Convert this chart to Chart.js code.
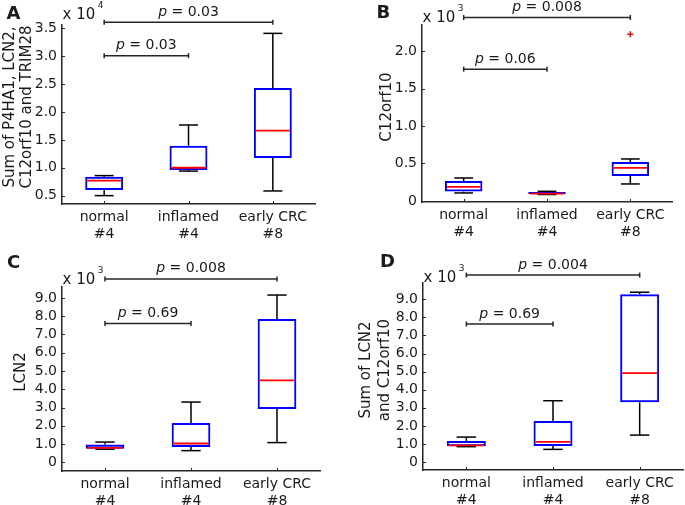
<!DOCTYPE html>
<html>
<head>
<meta charset="utf-8">
<script src="https://cdn.jsdelivr.net/npm/chart.js@4.4.1/dist/chart.umd.min.js"></script>
<style>
  html, body { margin: 0; padding: 0; background: #fff; }
  #wrap { position: relative; width: 685px; height: 505px; overflow: hidden; }
  canvas { position: absolute; }
</style>
</head>
<body>
<div id="wrap">
  <canvas id="chartA" width="340" height="250" style="left:0;top:0"></canvas>
  <canvas id="chartB" width="345" height="250" style="left:340px;top:0"></canvas>
  <canvas id="chartC" width="340" height="255" style="left:0;top:250px"></canvas>
  <canvas id="chartD" width="345" height="255" style="left:340px;top:250px"></canvas>
</div>
<script>
// groups shown on every panel
const categories = [['normal', '#4'], ['inflamed', '#4'], ['early CRC', '#8']];

// A: sum of P4HA1, LCN2, C12orf10 and TRIM28
const lowA   = [5000, 9400, 5840];
const q1A    = [6000, 9600, 11750];
const medA   = [7700, 10000, 16650];
const q3A    = [8400, 13960, 24300];
const highA  = [8590, 17670, 34100];
const ticksA = [5000, 10000, 15000, 20000, 25000, 30000, 35000];
const bracketA = [30100, 36100];
const pA       = ['0.03', '0.03'];

// B: C12orf10
const lowB   = [106, 85, 226];
const q1B    = [124, 88, 333];
const medB   = [186, 98, 440];
const q3B    = [266, 120, 520];
const highB  = [306, 128, 560];
const outlierB = [null, null, 2227];
const ticksB = [0, 500, 1000, 1500, 2000];
const bracketB = [1760, 2450];
const pB       = ['0.06', '0.008'];

// C: LCN2
const lowC   = [720, 640, 1080];
const q1C    = [740, 840, 2920];
const medC   = [790, 1030, 4490];
const q3C    = [970, 2150, 7850];
const highC  = [1110, 3300, 9160];
const ticksC = [0, 1000, 2000, 3000, 4000, 5000, 6000, 7000, 8000, 9000];
const bracketC = [7600, 10040];
const pC       = ['0.69', '0.008'];

// D: sum of LCN2 and C12orf10
const lowD   = [850, 700, 1490];
const q1D    = [880, 890, 3300];
const medD   = [920, 1110, 4920];
const q3D    = [1170, 2270, 9280];
const highD  = [1380, 3390, 9390];
const ticksD = ticksC;
const bracketD = [7630, 10340];
const pD       = ['0.69', '0.004'];

// which groups each bracket joins
const bracketPairs = [[0, 1], [0, 2]];

const FONT = '"DejaVu Sans", sans-serif';
const AXIS_COLOR = '#262626';
const TEXT_COLOR = '#1a1a1a';
const BOX_BLUE = '#0000ff';
const MEDIAN_RED = '#ff0000';

function drawPLabel(ctx, value, cx, baseline) {
    const italic = 'italic 14px ' + FONT;
    const plain = '14px ' + FONT;
    const rest = ' = ' + value;
    ctx.font = italic;
    const w1 = ctx.measureText('p').width;
    ctx.font = plain;
    const w2 = ctx.measureText(rest).width;
    const x = cx - (w1 + w2) / 2;
    ctx.textAlign = 'left';
    ctx.textBaseline = 'alphabetic';
    ctx.fillStyle = TEXT_COLOR;
    ctx.font = italic;
    ctx.fillText('p', x, baseline);
    ctx.font = plain;
    ctx.fillText(rest, x + w1, baseline);
}

function line(ctx, x1, y1, x2, y2) {
    ctx.beginPath();
    ctx.moveTo(x1, y1);
    ctx.lineTo(x2, y2);
    ctx.stroke();
}

/**
 * Whiskers, medians, inward ticks, brackets and labels for one panel.
 */
function makeBoxPlugin(p) {
    return {
        id: 'boxPlot' + p.letter,
        beforeDatasetsDraw(chart) {
            const ctx = chart.ctx;
            const y = chart.scales.y;
            const bars = chart.getDatasetMeta(0).data;
            ctx.save();
            ctx.strokeStyle = '#000';
            ctx.lineWidth = 1.5;
            bars.forEach((bar, i) => {
                const cap = bar.width / 4;
                const yHi = y.getPixelForValue(p.high[i]);
                const yLo = y.getPixelForValue(p.low[i]);
                line(ctx, bar.x, y.getPixelForValue(p.q3[i]), bar.x, yHi);
                line(ctx, bar.x, y.getPixelForValue(p.q1[i]), bar.x, yLo);
                line(ctx, bar.x - cap, yHi, bar.x + cap, yHi);
                line(ctx, bar.x - cap, yLo, bar.x + cap, yLo);
            });
            ctx.restore();
        },
        afterDatasetsDraw(chart) {
            const ctx = chart.ctx;
            const y = chart.scales.y;
            const bars = chart.getDatasetMeta(0).data;
            ctx.save();
            ctx.strokeStyle = MEDIAN_RED;
            ctx.lineWidth = 1.8;
            bars.forEach((bar, i) => {
                const ym = y.getPixelForValue(p.med[i]);
                line(ctx, bar.x - bar.width / 2 + 2, ym, bar.x + bar.width / 2 - 2, ym);
            });
            ctx.restore();
        },
        afterDraw(chart) {
            const ctx = chart.ctx;
            const {left, top, bottom} = chart.chartArea;
            const x = chart.scales.x;
            const y = chart.scales.y;
            ctx.save();

            // inward tick marks
            ctx.strokeStyle = AXIS_COLOR;
            ctx.lineWidth = 1;
            p.ticks.forEach(v => {
                const ty = Math.round(y.getPixelForValue(v)) + 0.5;
                line(ctx, left, ty, left + 3, ty);
            });
            categories.forEach((c, i) => {
                const tx = Math.round(x.getPixelForValue(i)) + 0.5;
                line(ctx, tx, bottom, tx, bottom - 3);
            });

            // significance brackets
            ctx.strokeStyle = AXIS_COLOR;
            ctx.lineWidth = 1.5;
            bracketPairs.forEach(([a, b], k) => {
                const by = y.getPixelForValue(p.bracket[k]);
                const x1 = x.getPixelForValue(a);
                const x2 = x.getPixelForValue(b);
                line(ctx, x1, by, x2, by);
                line(ctx, x1, by - 2.5, x1, by + 2.5);
                line(ctx, x2, by - 2.5, x2, by + 2.5);
                drawPLabel(ctx, p.pValues[k], (x1 + x2) / 2, by - 6.5);
            });

            // y axis title
            ctx.fillStyle = TEXT_COLOR;
            ctx.font = '15px ' + FONT;
            ctx.textAlign = 'center';
            ctx.textBaseline = 'alphabetic';
            p.yTitle.forEach((t, k) => {
                ctx.save();
                ctx.translate(p.titleX[k], p.titleY);
                ctx.rotate(-Math.PI / 2);
                ctx.fillText(t, 0, 0);
                ctx.restore();
            });

            // exponent label
            ctx.textAlign = 'left';
            ctx.font = '15px ' + FONT;
            const expBase = top - p.expLift;
            ctx.fillText('x 10', left + 0.5, expBase);
            const w = ctx.measureText('x 10').width;
            ctx.font = '9px ' + FONT;
            ctx.fillText(p.exponent, left + w + 3, expBase - 11);

            // panel letter
            ctx.font = 'bold 18px ' + FONT;
            ctx.fillText(p.letter, p.letterX, p.letterY);
            ctx.restore();
        }
    };
}

function makeBoxChart(id, p) {
    const canvas = document.getElementById(id);
    const datasets = [{
        type: 'bar',
        data: p.q1.map((v, i) => [v, p.q3[i]]),
        backgroundColor: 'rgba(255,255,255,0)',
        borderColor: BOX_BLUE,
        borderWidth: 2,
        borderSkipped: false,
        barPercentage: 0.45,
        categoryPercentage: 1
    }];
    if (p.outliers) {
        datasets.push({
            type: 'line',
            data: p.outliers,
            showLine: false,
            pointStyle: 'cross',
            pointRadius: 3,
            borderColor: MEDIAN_RED,
            borderWidth: 1.5
        });
    }
    return new Chart(canvas, {
        type: 'bar',
        data: { labels: categories, datasets },
        options: {
            responsive: false,
            animation: false,
            layout: {
                padding: { left: 0, top: p.area.top, right: canvas.width - p.area.right, bottom: 0 }
            },
            plugins: { legend: { display: false }, tooltip: { enabled: false } },
            scales: {
                x: {
                    grid: { display: false, drawTicks: false },
                    border: { color: AXIS_COLOR, width: 1.5 },
                    ticks: {
                        color: TEXT_COLOR,
                        font: { family: FONT, size: 14, lineHeight: 1.2 },
                        padding: 5,
                        maxRotation: 0,
                        autoSkip: false
                    },
                    afterFit: s => { s.height = canvas.height - p.area.bottom; }
                },
                y: {
                    min: p.min,
                    max: p.max,
                    grid: { display: false, drawTicks: false },
                    border: { color: AXIS_COLOR, width: 1.5 },
                    afterBuildTicks: s => { s.ticks = p.ticks.map(v => ({ value: v })); },
                    ticks: {
                        color: TEXT_COLOR,
                        font: { family: FONT, size: 14 },
                        padding: 5,
                        callback: v => v === 0 ? '0' : (v / p.scale).toFixed(1)
                    },
                    afterFit: s => { s.width = p.area.left; }
                }
            }
        },
        plugins: [makeBoxPlugin(p)]
    });
}

makeBoxChart('chartA', {
    letter: 'A', letterX: 6.5, letterY: 18.5,
    low: lowA, q1: q1A, med: medA, q3: q3A, high: highA,
    ticks: ticksA, min: 3500, max: 35600, scale: 10000, exponent: '4',
    bracket: bracketA, pValues: pA,
    area: { left: 62, top: 25, right: 315, bottom: 204 },
    yTitle: ['Sum of P4HA1, LCN2,', 'C12orf10 and TRIM28'], titleX: [14, 31], titleY: 107,
    expLift: 6.5
});

makeBoxChart('chartB', {
    letter: 'B', letterX: 36.5, letterY: 17.5,
    low: lowB, q1: q1B, med: medB, q3: q3B, high: highB, outliers: outlierB,
    ticks: ticksB, min: -15, max: 2350, scale: 1000, exponent: '3',
    bracket: bracketB, pValues: pB,
    area: { left: 82, top: 25, right: 332, bottom: 202 },
    yTitle: ['C12orf10'], titleX: [51], titleY: 107,
    expLift: 3.5
});

makeBoxChart('chartC', {
    letter: 'C', letterX: 7, letterY: 17.5,
    low: lowC, q1: q1C, med: medC, q3: q3C, high: highC,
    ticks: ticksC, min: -475, max: 9600, scale: 1000, exponent: '3',
    bracket: bracketC, pValues: pC,
    area: { left: 62, top: 37, right: 320, bottom: 221 },
    yTitle: ['LCN2'], titleX: [25], titleY: 122,
    expLift: 3.5
});

makeBoxChart('chartD', {
    letter: 'D', letterX: 40, letterY: 16.5,
    low: lowD, q1: q1D, med: medD, q3: q3D, high: highD,
    ticks: ticksD, min: -440, max: 9900, scale: 1000, exponent: '3',
    bracket: bracketD, pValues: pD,
    area: { left: 83, top: 33, right: 343, bottom: 220 },
    yTitle: ['Sum of LCN2', 'and C12orf10'], titleX: [30, 49], titleY: 120,
    expLift: 1.5
});
</script>
</body>
</html>
